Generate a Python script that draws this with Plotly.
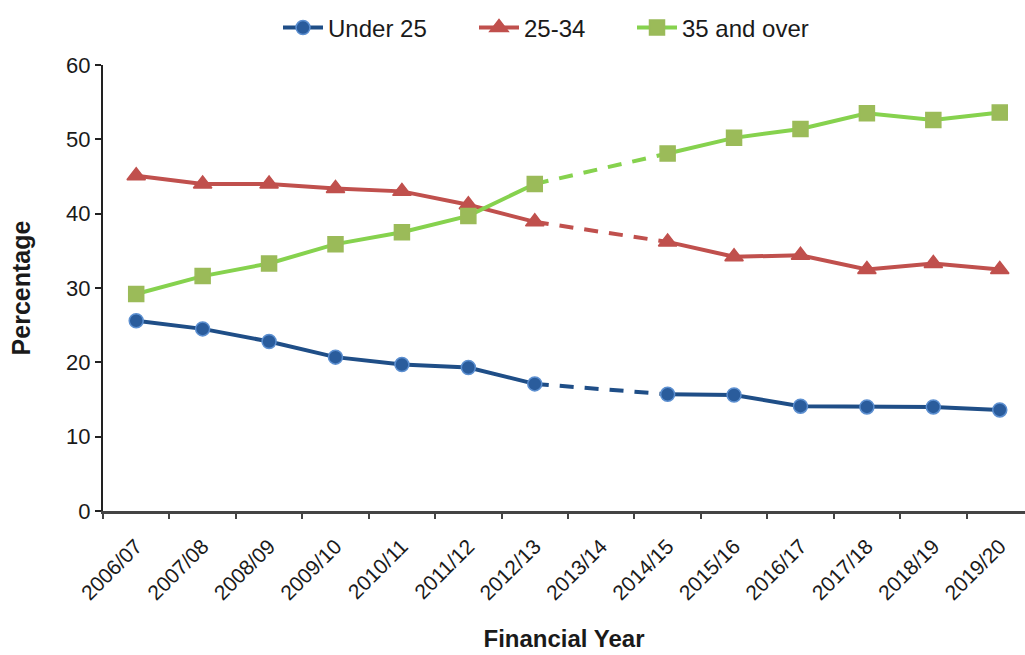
import plotly.graph_objects as go

# Financial years on the category axis
years = ["2006/07", "2007/08", "2008/09", "2009/10", "2010/11", "2011/12", "2012/13",
         "2013/14", "2014/15", "2015/16", "2016/17", "2017/18", "2018/19", "2019/20"]

# Share of each age group (%); no figures were published for 2013/14
under_25 = [25.6, 24.5, 22.8, 20.7, 19.7, 19.3, 17.1, None, 15.7, 15.6, 14.1, 14.0, 14.0, 13.6]
age_25_34 = [45.1, 44.0, 44.0, 43.4, 43.0, 41.2, 38.9, None, 36.2, 34.2, 34.4, 32.5, 33.3, 32.5]
age_35_over = [29.2, 31.6, 33.3, 35.9, 37.5, 39.7, 44.0, None, 48.1, 50.2, 51.4, 53.5, 52.6, 53.6]

series = [
    ("Under 25", under_25, "#1F4E87", "#2A5C9C", "#5C8FD0", "circle", 14, "legend"),
    ("25-34", age_25_34, "#C0504D", "#C0504D", "#C0504D", "triangle-up", 16, "legend2"),
    ("35 and over", age_35_over, "#86D24E", "#9BBB59", "#9BBB59", "square", 15, "legend3"),
]

FONT = "Liberation Sans, Arial, sans-serif"
fig = go.Figure()

for name, vals, line_col, mk_fill, mk_edge, symbol, size, leg in series:
    # dashed bridge across the missing year(s)
    for i in range(1, len(vals) - 1):
        if vals[i] is None and vals[i - 1] is not None:
            j = i
            while vals[j] is None:
                j += 1
            fig.add_trace(go.Scatter(
                x=[years[i - 1], years[j]], y=[vals[i - 1], vals[j]],
                mode="lines", showlegend=False, hoverinfo="skip",
                line=dict(color=line_col, width=4, dash="14px,11px"),
            ))
    fig.add_trace(go.Scatter(
        x=years, y=vals, name=name, mode="lines+markers", connectgaps=False,
        legend=leg,
        line=dict(color=line_col, width=4),
        marker=dict(symbol=symbol, size=size, color=mk_fill,
                    line=dict(color=mk_edge, width=1.5)),
    ))

def legend_at(xpix):
    return dict(orientation="h", x=(xpix - 103) / 922, xanchor="left",
                y=1.083, yanchor="middle", font=dict(size=24), itemwidth=40,
                bgcolor="rgba(0,0,0,0)")

fig.update_layout(
    width=1025, height=655,
    margin=dict(l=103, r=0, t=65, b=144),
    paper_bgcolor="white", plot_bgcolor="white",
    font=dict(family=FONT, size=22, color="#1a1a1a"),
    showlegend=True,
    legend=legend_at(278),
    legend2=legend_at(474),
    legend3=legend_at(632),
    xaxis=dict(
        type="category", categoryorder="array", categoryarray=years,
        range=[-0.5, 13.38], showgrid=False, zeroline=False,
        showline=True, linecolor="#444444", linewidth=2.5,
        ticks="outside", tickson="boundaries", ticklen=5, tickcolor="#444444", tickwidth=2,
        tickangle=-45, tickfont=dict(size=21), ticklabelstandoff=12,
        title=dict(text="<b>Financial Year</b>", font=dict(size=24), standoff=27),
    ),
    yaxis=dict(
        range=[0, 60], tickvals=[0, 10, 20, 30, 40, 50, 60], showgrid=False, zeroline=False,
        showline=True, linecolor="#222222", linewidth=2,
        ticks="outside", ticklen=6, tickcolor="#222222", tickwidth=2,
        tickfont=dict(size=22),
        title=dict(text="<b>Percentage</b>", font=dict(size=25), standoff=28),
    ),
)

fig.write_html("out.html")
